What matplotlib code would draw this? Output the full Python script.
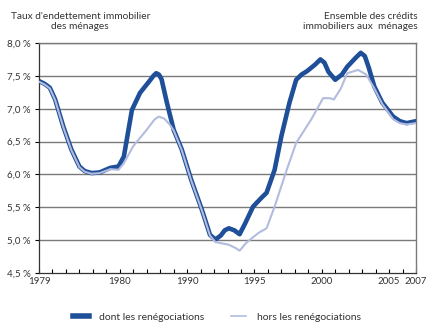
import matplotlib
matplotlib.use("Agg")
import matplotlib.pyplot as plt
from matplotlib.lines import Line2D

# taux "dont les renégociations" (années fractionnaires)
x_dont = [1979.0, 1979.4, 1979.8, 1980.2, 1980.8, 1981.4, 1982.0, 1982.4, 1982.9, 1983.5,
          1984.3, 1984.9, 1985.3, 1985.9, 1986.5, 1987.2, 1987.5, 1987.7, 1987.9, 1988.1,
          1988.5, 1989.0, 1989.6, 1990.3, 1991.1, 1991.7, 1992.1, 1992.5, 1992.8, 1993.1,
          1993.5, 1993.9, 1994.3, 1994.9, 1995.5, 1995.9, 1996.5, 1997.0, 1997.6, 1998.1,
          1998.5, 1998.9, 1999.5, 1999.9, 2000.2, 2000.5, 2001.0, 2001.5, 2001.9, 2002.5,
          2002.9, 2003.2, 2003.5, 2003.9, 2004.5, 2005.3, 2005.8, 2006.3, 2007.0]
y_dont = [7.42, 7.38, 7.32, 7.14, 6.73, 6.38, 6.12, 6.05, 6.02, 6.03,
          6.10, 6.12, 6.27, 6.98, 7.24, 7.42, 7.50, 7.54, 7.52, 7.45,
          7.09, 6.68, 6.38, 5.92, 5.46, 5.08, 5.01, 5.07, 5.15, 5.18,
          5.15, 5.09, 5.25, 5.51, 5.64, 5.72, 6.07, 6.58, 7.09, 7.44,
          7.52, 7.57, 7.67, 7.75, 7.70, 7.56, 7.44, 7.52, 7.64, 7.77,
          7.85, 7.80, 7.62, 7.34, 7.09, 6.88, 6.81, 6.78, 6.81]

# taux "hors les renégociations"
x_hors = [1979.0, 1979.4, 1979.8, 1980.2, 1980.8, 1981.4, 1982.0, 1982.4, 1982.9, 1983.5,
          1984.3, 1984.9, 1985.3, 1986.0, 1987.0, 1987.6, 1987.9, 1988.3, 1988.7, 1989.0,
          1989.6, 1990.3, 1991.1, 1991.7, 1992.1, 1992.6, 1993.1, 1993.6, 1993.9, 1994.4,
          1995.3, 1995.9, 1996.5, 1997.4, 1998.1, 1999.2, 2000.1, 2000.6, 2000.9, 2001.4,
          2001.9, 2002.7, 2003.3, 2003.9, 2004.5, 2005.3, 2005.8, 2006.3, 2007.0]
y_hors = [7.41, 7.37, 7.31, 7.13, 6.72, 6.37, 6.11, 6.04, 6.01, 6.02,
          6.08, 6.07, 6.17, 6.43, 6.68, 6.84, 6.88, 6.85, 6.76, 6.67,
          6.37, 5.91, 5.45, 5.07, 4.97, 4.95, 4.93, 4.88, 4.84, 4.96,
          5.11, 5.18, 5.51, 6.07, 6.48, 6.83, 7.16, 7.16, 7.14, 7.30,
          7.54, 7.59, 7.52, 7.31, 7.07, 6.84, 6.78, 6.76, 6.78]

y_ticks = [4.5, 5.0, 5.5, 6.0, 6.5, 7.0, 7.5, 8.0]
y_labels = ["4,5 %", "5,0 %", "5,5 %", "6,0 %", "6,5 %", "7,0 %", "7,5 %", "8,0 %"]
x_ticks = [1979, 1985, 1990, 1995, 2000, 2005, 2007]
x_labels = ["1979", "1980", "1990", "1995", "2000", "2005", "2007"]

dark = "#1f4f98"
light = "#b3bcde"
plt.rcParams["font.family"] = ["Lato", "DejaVu Sans"]

fig = plt.figure(figsize=(4.34, 3.28), dpi=100)
ax = fig.add_axes([0.0899, 0.1677, 0.8686, 0.7013])

for yv in y_ticks[1:]:
    ax.axhline(yv, color="#7a7a7a", lw=1.0, zorder=1)

ax.plot(x_dont, y_dont, color=dark, lw=3.3, solid_capstyle="round",
        solid_joinstyle="round", zorder=2)
ax.plot(x_hors, y_hors, color=light, lw=1.5, solid_joinstyle="round", zorder=3)

ax.set_xlim(1979, 2007)
ax.set_ylim(4.5, 8.0)
ax.set_yticks(y_ticks)
ax.set_yticklabels(y_labels, fontsize=7, color="#333333")
ax.set_xticks(x_ticks)
ax.set_xticklabels(x_labels, fontsize=7, color="#333333")
ax.set_xticks(range(1979, 2008), minor=True)
ax.tick_params(axis="x", which="both", direction="in", length=3, width=0.8, pad=3)
ax.tick_params(axis="y", direction="out", length=3, width=0.8, pad=3)

for s in ["left", "bottom"]:
    ax.spines[s].set_color("#333333")
    ax.spines[s].set_linewidth(0.9)
for s in ["top", "right"]:
    ax.spines[s].set_color("#7a7a7a")
    ax.spines[s].set_linewidth(1.0)

fig.text(0.185, 0.935, "Taux d'endettement immobilier\ndes ménages", ha="center",
         va="center", fontsize=7.3, color="#333333", linespacing=1.1)
fig.text(0.963, 0.935, "Ensemble des crédits\nimmobiliers aux  ménages", ha="right",
         va="center", fontsize=7.3, color="#333333", linespacing=1.1, multialignment="right")

handles = [Line2D([0], [0], color=dark, lw=4), Line2D([0], [0], color=light, lw=1.2)]
fig.legend(handles, ["dont les renégociations", "hors les renégociations"],
           loc="center", bbox_to_anchor=(0.5, 0.033), ncol=2, frameon=False,
           fontsize=7.5, handlelength=1.5, columnspacing=2.5, handletextpad=1.0,
           labelcolor="#333333")

fig.savefig("out.png", dpi=100)
